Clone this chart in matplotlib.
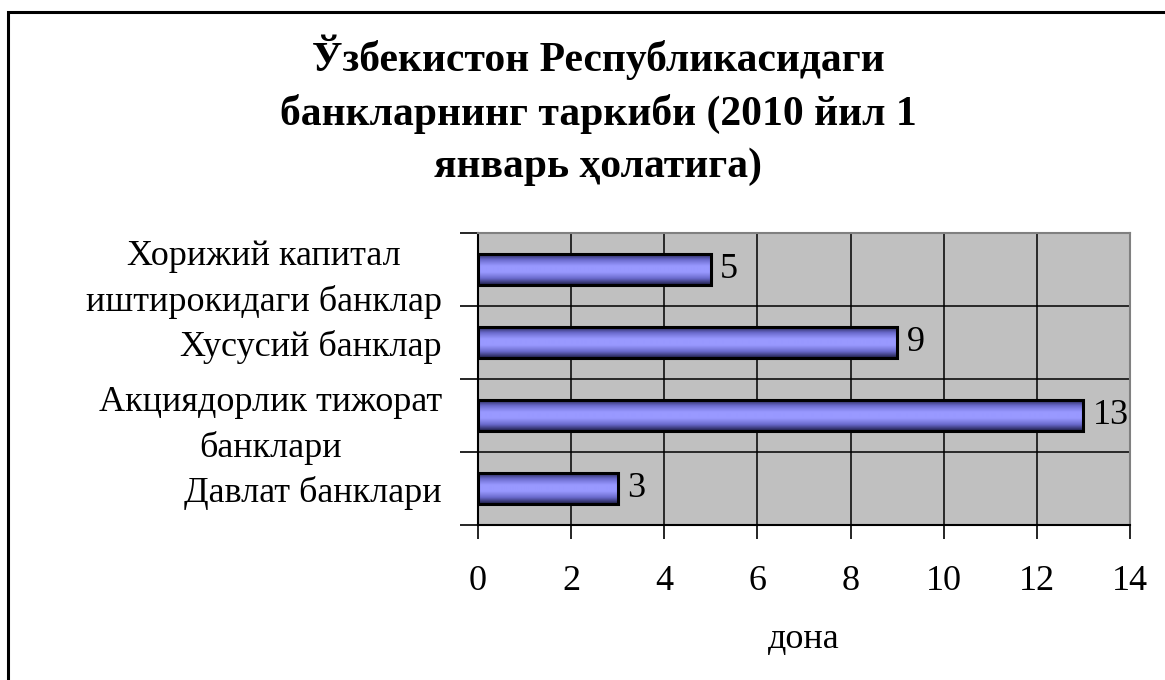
import numpy as np
import matplotlib
matplotlib.use('Agg')
import matplotlib.pyplot as plt
from matplotlib.colors import LinearSegmentedColormap
from matplotlib.patches import Rectangle

plt.rcParams['font.family'] = ['Liberation Serif', 'DejaVu Serif']

title = 'Ўзбекистон Республикасидаги\nбанкларнинг таркиби (2010 йил 1\nянварь ҳолатига)'
categories = ['Давлат банклари', 'Акциядорлик тижорат\nбанклари', 'Хусусий банклар',
              'Хорижий капитал\nиштирокидаги банклар']
values = [3, 13, 9, 5]
xlabel = 'дона'

fig = plt.figure(figsize=(11.65, 6.8), dpi=100)
# outer chart border (only left/top visible in the crop)
fig.patches.append(Rectangle((8/1165, -0.1), 1.2, 1 - 12/680 + 0.1, transform=fig.transFigure,
                             fill=False, edgecolor='black', linewidth=2.2))

ax = fig.add_axes([478/1165, 1 - 525/680, (1130-478)/1165, (525-233)/680])
ax.set_facecolor('#c0c0c0')

ypos = np.arange(len(categories))
bar_h = 0.43

# gradient fill: dark at top/bottom, light in the middle
cmap = LinearSegmentedColormap.from_list('barg', ['#1e1e46', '#6a6acc', '#9999ff', '#9999ff', '#6a6acc', '#1e1e46'])
grad = np.linspace(0, 1, 64).reshape(-1, 1)
for y, v in zip(ypos, values):
    ax.imshow(grad, cmap=cmap, aspect='auto', extent=(0, v, y - bar_h/2, y + bar_h/2),
              zorder=3, interpolation='bilinear')
    ax.add_patch(Rectangle((0, y - bar_h/2), v, bar_h, fill=False, edgecolor='black',
                           linewidth=2.2, zorder=4))
    ax.text(v + 0.2, y, str(v), va='center', ha='left', fontsize=26, zorder=5)

ax.set_xlim(0, 14)
ax.set_ylim(-0.5, len(categories) - 0.5)

ax.set_xticks(np.arange(0, 15, 2))
ax.set_xticklabels([str(t) for t in range(0, 15, 2)], fontsize=26)
ax.set_yticks(np.arange(-0.5, len(categories), 1))
ax.set_yticklabels([])
ax.set_yticks(ypos, minor=True)
ax.set_yticklabels(categories, minor=True, fontsize=26, multialignment='center', linespacing=1.45)
ax.tick_params(axis='y', which='minor', length=0, pad=26)
ax.tick_params(axis='y', which='major', length=13, width=1.2, direction='out')
ax.tick_params(axis='x', which='major', length=10, width=1.2, direction='out', pad=19)
ax.grid(True, which='major', color='black', linewidth=1.1, zorder=1)
ax.set_axisbelow(True)

for s in ['top', 'right']:
    ax.spines[s].set_color('#808080')
    ax.spines[s].set_linewidth(1.5)
for s in ['left', 'bottom']:
    ax.spines[s].set_color('black')
    ax.spines[s].set_linewidth(1.5)

ax.set_xlabel(xlabel, fontsize=26, labelpad=18)

fig.text(598/1165, 1 - 110/680, title, ha='center', va='center', fontsize=30,
         fontweight='bold', linespacing=1.45)

fig.savefig('out.png', dpi=100)
